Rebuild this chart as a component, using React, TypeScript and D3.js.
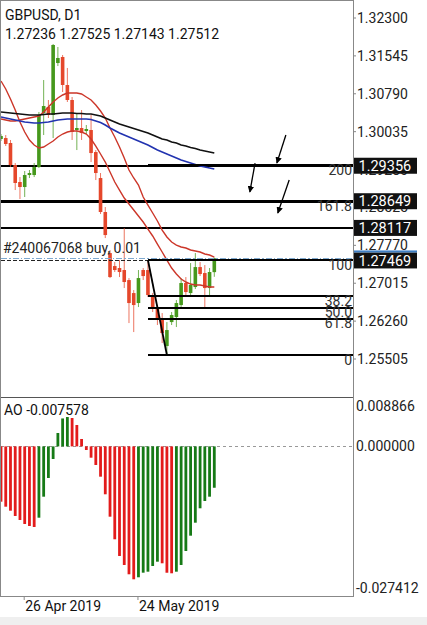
import React from "react";
import * as d3 from "d3";

// ---- price bars (daily GBPUSD), oldest first ----
const barOpen = [1.29889, 1.29908, 1.29809, 1.2937, 1.29032, 1.28932, 1.29171, 1.29171, 1.2933, 1.30407, 1.30526, 1.30367, 1.31403, 1.31523, 1.30965, 1.30666, 1.30068, 1.30108, 1.30048, 1.30068, 1.29629, 1.29111, 1.28434, 1.27616, 1.27357, 1.27318, 1.27278, 1.27078, 1.26819, 1.2662, 1.27278, 1.27278, 1.2676, 1.2654, 1.26321, 1.25763, 1.26241, 1.26341, 1.2658, 1.27019, 1.26819, 1.26939, 1.27337, 1.27218, 1.26919, 1.27236];
const barHigh = [1.29988, 1.29968, 1.29869, 1.2941, 1.29131, 1.29251, 1.29271, 1.2941, 1.30427, 1.31064, 1.30666, 1.31782, 1.31722, 1.31563, 1.31304, 1.30726, 1.30407, 1.30466, 1.30168, 1.30367, 1.29669, 1.29211, 1.28533, 1.27676, 1.27437, 1.27477, 1.28115, 1.27118, 1.26879, 1.27278, 1.27318, 1.27477, 1.26819, 1.2658, 1.26421, 1.26241, 1.26441, 1.2668, 1.27118, 1.27138, 1.27417, 1.27616, 1.27437, 1.27377, 1.27318, 1.27525];
const barLow = [1.29849, 1.29749, 1.2933, 1.28872, 1.28693, 1.28733, 1.29111, 1.29131, 1.29311, 1.29968, 1.30307, 1.29908, 1.31343, 1.30825, 1.30626, 1.29869, 1.29669, 1.29869, 1.29988, 1.2943, 1.29071, 1.28394, 1.27915, 1.27118, 1.27238, 1.27138, 1.26919, 1.26221, 1.26042, 1.2654, 1.27078, 1.2674, 1.26441, 1.26182, 1.25823, 1.25584, 1.26182, 1.26142, 1.2654, 1.26779, 1.2674, 1.26899, 1.27158, 1.2654, 1.2674, 1.27143];
const barClose = [1.29948, 1.29789, 1.2937, 1.29012, 1.28932, 1.29171, 1.29211, 1.2933, 1.30367, 1.30546, 1.30367, 1.31762, 1.31503, 1.30965, 1.30666, 1.30028, 1.30108, 1.30008, 1.30088, 1.29609, 1.29211, 1.28434, 1.27975, 1.27138, 1.27278, 1.27238, 1.27039, 1.2662, 1.2658, 1.27118, 1.27158, 1.26779, 1.2654, 1.26321, 1.26022, 1.26082, 1.26381, 1.2662, 1.27019, 1.26839, 1.26979, 1.27337, 1.27198, 1.26919, 1.27238, 1.27512];

// ---- indicator lines ----
const redLineA = [1.31045, 1.30885, 1.30686, 1.30467, 1.30227, 1.30028, 1.29869, 1.29769, 1.29709, 1.29729, 1.29789, 1.29849, 1.29929, 1.29988, 1.30028, 1.30048, 1.30048, 1.30028, 1.29988, 1.29889, 1.29749, 1.2959, 1.2943, 1.29231, 1.29032, 1.28872, 1.28713, 1.28593, 1.28474, 1.28354, 1.28235, 1.28095, 1.27956, 1.27796, 1.27637, 1.27477, 1.27318, 1.27198, 1.27099, 1.27039, 1.26999, 1.26979, 1.26979, 1.26959, 1.26939, 1.26939];
const redLineB = [1.30287, 1.30267, 1.30247, 1.30247, 1.30267, 1.30287, 1.30307, 1.30327, 1.30347, 1.30427, 1.30526, 1.30626, 1.30706, 1.30766, 1.30805, 1.30805, 1.30805, 1.30785, 1.30726, 1.30666, 1.30566, 1.30447, 1.30307, 1.30108, 1.29929, 1.29729, 1.2951, 1.29271, 1.29112, 1.28972, 1.28733, 1.28573, 1.28414, 1.28255, 1.28075, 1.27936, 1.27836, 1.27776, 1.27737, 1.27717, 1.27677, 1.27657, 1.27637, 1.27597, 1.27577, 1.27537];
const blackMA = [1.30427, 1.30417, 1.30407, 1.30397, 1.30387, 1.30377, 1.30367, 1.30367, 1.30367, 1.30377, 1.30387, 1.30387, 1.30397, 1.30407, 1.30407, 1.30407, 1.30397, 1.30397, 1.30387, 1.30387, 1.30367, 1.30347, 1.30307, 1.30267, 1.30227, 1.30188, 1.30158, 1.30128, 1.30098, 1.30068, 1.30038, 1.30008, 1.29968, 1.29929, 1.29889, 1.29869, 1.29829, 1.29809, 1.29769, 1.29749, 1.29719, 1.29699, 1.2967, 1.2965, 1.2963, 1.2961];
const blueMA = [1.30327, 1.30307, 1.30287, 1.30267, 1.30247, 1.30227, 1.30217, 1.30207, 1.30207, 1.30217, 1.30227, 1.30247, 1.30267, 1.30277, 1.30287, 1.30287, 1.30287, 1.30287, 1.30287, 1.30277, 1.30247, 1.30217, 1.30168, 1.30108, 1.30058, 1.30008, 1.29968, 1.29929, 1.29889, 1.29849, 1.29809, 1.29769, 1.29719, 1.2967, 1.2963, 1.2959, 1.2955, 1.2951, 1.2947, 1.2944, 1.2941, 1.29381, 1.29351, 1.29331, 1.29311, 1.29291];

// ---- Awesome Oscillator ----
const aoValues = [-0.010132, -0.011048, -0.011781, -0.012752, -0.013485, -0.014218, -0.014584, -0.014767, -0.013063, -0.009216, -0.00579, -0.002309, 0.002455, 0.00512, 0.00538, 0.0052, 0.003921, 0.001356, -0.00066, -0.00207, -0.003408, -0.005551, -0.008776, -0.01288, -0.017021, -0.020081, -0.02173, -0.023434, -0.02435, -0.023983, -0.02314, -0.022957, -0.021913, -0.021125, -0.021418, -0.02315, -0.02325, -0.022957, -0.02173, -0.019165, -0.016361, -0.01398, -0.011341, -0.010004, -0.009216, -0.007578];

// ---- axes & annotations ----
const priceTicks = [1.323, 1.31545, 1.3079, 1.30035, 1.2928, 1.28525, 1.2777, 1.27015, 1.2626, 1.25505];
const hLevels = [1.29356, 1.28649, 1.28117];
const hWidths = [2, 3, 2];
const orderPrice = 1.27469;
const bidPrice = 1.27512;
const orderLabel = "#240067068 buy, 0.01";
const boxPrices = [1.29356, 1.28649, 1.28117, 1.27469];
const fibLabels = ["0", "61.8", "50.0", "38.2", "100", "161.8", "200"];
const fibRatios = [0, 0.382, 0.5, 0.618, 1, 1.618, 2];
const fibLow = 1.25584;
const fibHigh = 1.27477;
const fibHighBar = 31;
const fibLowBar = 35;
const aoTicks = [0.008866, 0, -0.027412];
const dateLabels = ["26 Apr 2019", "24 May 2019"];
const dateBars = [5, 29];
const arrowFromBar = [60.1, 53.6, 60.8];
const arrowFromPrice = [1.29968, 1.2941, 1.29072];
const arrowToBar = [58.2, 52.5, 58.4];
const arrowToPrice = [1.2941, 1.28833, 1.28414];

const FONT = "Roboto, 'Noto Sans', sans-serif";
const BULL = "#46981c";
const BEAR = "#e5472b";

// snap a horizontal line to the pixel grid for a given stroke width
const snap = (v: number, w: number) => (Math.round(w) % 2 === 0 ? Math.round(v) : Math.round(v - 0.5) + 0.5);

export default function App() {
  const W = 427;
  const H = 625;
  const L = 1;
  const R = 353;
  const mainTop = 1;
  const mainBot = 397;
  const aoTop = 398;
  const aoBot = 596;

  const x = d3.scaleLinear().domain([0, 45]).range([1, 214.3]);
  const y = d3.scaleLinear().domain([1.25505, 1.323]).range([359, 18]);
  const yAo = d3.scaleLinear().domain([-0.027412, 0.008866]).range([aoBot, aoTop]);

  const line = (vals: number[]) =>
    d3
      .line<number>()
      .x((_, i) => x(i))
      .y((v) => y(v))(vals) || "";

  const n = barOpen.length;
  const bodyW = 3.6;
  const aoW = 2.8;

  return (
    <div style={{ position: "absolute", left: 0, top: 0, width: W, height: H, background: "#fff" }}>
      <svg width={W} height={H} style={{ display: "block", fontFamily: FONT }}>
        <defs>
          <clipPath id="mainClip">
            <rect x={L} y={mainTop} width={R - L} height={mainBot - mainTop} />
          </clipPath>
          <clipPath id="aoClip">
            <rect x={L} y={aoTop} width={R - L} height={aoBot - aoTop} />
          </clipPath>
          <marker id="arrowHead" viewBox="0 0 10 10" refX="9" refY="5" markerWidth="5" markerHeight="5" orient="auto">
            <path d="M0,0 L10,5 L0,10 z" fill="#000" />
          </marker>
        </defs>
        <rect x={0} y={0} width={W} height={H} fill="#fff" />
        <rect x={0} y={617} width={W} height={8} fill="#efefef" />

        {/* main pane */}
        <g clipPath="url(#mainClip)">
          {/* horizontal user lines */}
          {hLevels.map((p, i) => (
            <line
              key={"h" + i}
              x1={L}
              x2={R}
              y1={snap(y(p), hWidths[i])}
              y2={snap(y(p), hWidths[i])}
              stroke="#000"
              strokeWidth={hWidths[i]}
              shapeRendering="crispEdges"
            />
          ))}
          {/* candles */}
          {d3.range(n).map((i) => {
            const up = barClose[i] >= barOpen[i];
            const c = up ? BULL : BEAR;
            const top = y(Math.max(barOpen[i], barClose[i]));
            const bot = y(Math.min(barOpen[i], barClose[i]));
            return (
              <g key={"c" + i}>
                <line x1={x(i)} x2={x(i)} y1={y(barHigh[i])} y2={y(barLow[i])} stroke={c} strokeWidth={1} strokeOpacity={0.75} />
                <rect x={x(i) - bodyW / 2} y={top} width={bodyW} height={Math.max(1, bot - top)} fill={c} />
              </g>
            );
          })}
          {/* indicator lines */}
          <path d={line(redLineA)} fill="none" stroke="#cc3629" strokeWidth={1.4} />
          <path d={line(redLineB)} fill="none" stroke="#cc3629" strokeWidth={1.4} />
          <path d={line(blueMA)} fill="none" stroke="#2233b0" strokeWidth={1.6} />
          <path d={line(blackMA)} fill="none" stroke="#111" strokeWidth={1.7} />

          {/* order & bid lines */}
          <line
            x1={L}
            x2={R}
            y1={snap(y(bidPrice), 1)}
            y2={snap(y(bidPrice), 1)}
            stroke="#7fa9cf"
            strokeWidth={1}
            strokeDasharray="6,2,1.5,2"
            shapeRendering="crispEdges"
          />
          <line
            x1={L}
            x2={R}
            y1={snap(y(orderPrice), 1)}
            y2={snap(y(orderPrice), 1)}
            stroke="#222"
            strokeWidth={1}
            strokeDasharray="4,2"
            shapeRendering="crispEdges"
          />
          <text x={3} y={y(orderPrice) - 7.5} fontSize={14} fill="#222">
            {orderLabel}
          </text>

          {/* fibonacci */}
          <line
            x1={x(fibHighBar)}
            y1={y(fibHigh)}
            x2={x(fibLowBar)}
            y2={y(fibLow)}
            stroke="#000"
            strokeWidth={1.8}
          />
          {fibRatios.map((r, i) => {
            const p = fibLow + r * (fibHigh - fibLow);
            return (
              <g key={"f" + i}>
                <line
                  x1={x(fibHighBar)}
                  x2={R}
                  y1={snap(y(p), 2)}
                  y2={snap(y(p), 2)}
                  stroke="#000"
                  strokeWidth={2}
                  shapeRendering="crispEdges"
                />
                <text x={R - 1} y={y(p) + 9.5} fontSize={14} textAnchor="end" fill="#333">
                  {fibLabels[i]}
                </text>
              </g>
            );
          })}

          {/* arrows */}
          {arrowFromBar.map((b, i) => (
            <line
              key={"a" + i}
              x1={x(b)}
              y1={y(arrowFromPrice[i])}
              x2={x(arrowToBar[i])}
              y2={y(arrowToPrice[i])}
              stroke="#000"
              strokeWidth={1.3}
              markerEnd="url(#arrowHead)"
            />
          ))}
        </g>

        {/* titles */}
        <text x={5} y={20} fontSize={14} fill="#111">GBPUSD, D1</text>
        <text x={5} y={39} fontSize={14} fill="#111">
          {[barOpen[n - 1], barHigh[n - 1], barLow[n - 1], barClose[n - 1]].map((v) => v.toFixed(5)).join(" ")}
        </text>

        {/* AO pane */}
        <line
          x1={L}
          x2={R}
          y1={snap(yAo(0), 1)}
          y2={snap(yAo(0), 1)}
          stroke="#999"
          strokeWidth={1}
          strokeDasharray="3,3"
          shapeRendering="crispEdges"
        />
        <g clipPath="url(#aoClip)">
          {aoValues.map((v, i) => {
            const up = i > 0 && v > aoValues[i - 1];
            return (
              <rect
                key={"ao" + i}
                x={x(i) - aoW / 2}
                y={Math.min(yAo(v), yAo(0))}
                width={aoW}
                height={Math.abs(yAo(v) - yAo(0))}
                fill={up ? "#167a16" : "#e31b1b"}
              />
            );
          })}
        </g>
        <text x={4} y={415} fontSize={14} fill="#111">
          {"AO " + aoValues[aoValues.length - 1].toFixed(6)}
        </text>

        {/* frame */}
        <rect x={L - 0.5} y={mainTop - 0.5} width={R - L + 0.5} height={aoBot - mainTop + 0.5} fill="none" stroke="#888" strokeWidth={1} shapeRendering="crispEdges" />
        <line x1={L} x2={R} y1={mainBot + 0.5} y2={mainBot + 0.5} stroke="#555" strokeWidth={1} shapeRendering="crispEdges" />

        {/* price axis */}
        {priceTicks.map((p, i) => (
          <g key={"pt" + i}>
            <line x1={R} x2={R + 3} y1={y(p)} y2={y(p)} stroke="#888" />
            <text x={357} y={y(p)} dy="0.36em" fontSize={14} fill="#222">
              {p.toFixed(5)}
            </text>
          </g>
        ))}
        {boxPrices.map((p, i) => (
          <g key={"bx" + i}>
            <rect x={354} y={y(p) - 8} width={63} height={16} fill="#111" />
            <text x={358.5} y={y(p)} dy="0.36em" fontSize={14.5} fill="#fff">
              {p.toFixed(5)}
            </text>
          </g>
        ))}
        <rect x={354} y={y(orderPrice) - 10} width={63} height={2} fill="#3f7fc4" />

        {/* AO axis */}
        {aoTicks.map((v, i) => {
          const yy = Math.min(Math.max(yAo(v), aoTop + 8), aoBot - 8);
          return (
            <text key={"at" + i} x={356} y={yy} dy="0.36em" fontSize={14} fill="#222">
              {v.toFixed(6)}
            </text>
          );
        })}

        {/* date axis */}
        {dateBars.map((b, i) => (
          <g key={"d" + i}>
            <line x1={x(b) - 0.5} x2={x(b) - 0.5} y1={aoBot} y2={aoBot + 4} stroke="#888" />
            <text x={x(b) + 0.5} y={611} fontSize={14} fill="#111">
              {dateLabels[i]}
            </text>
          </g>
        ))}
      </svg>
    </div>
  );
}
